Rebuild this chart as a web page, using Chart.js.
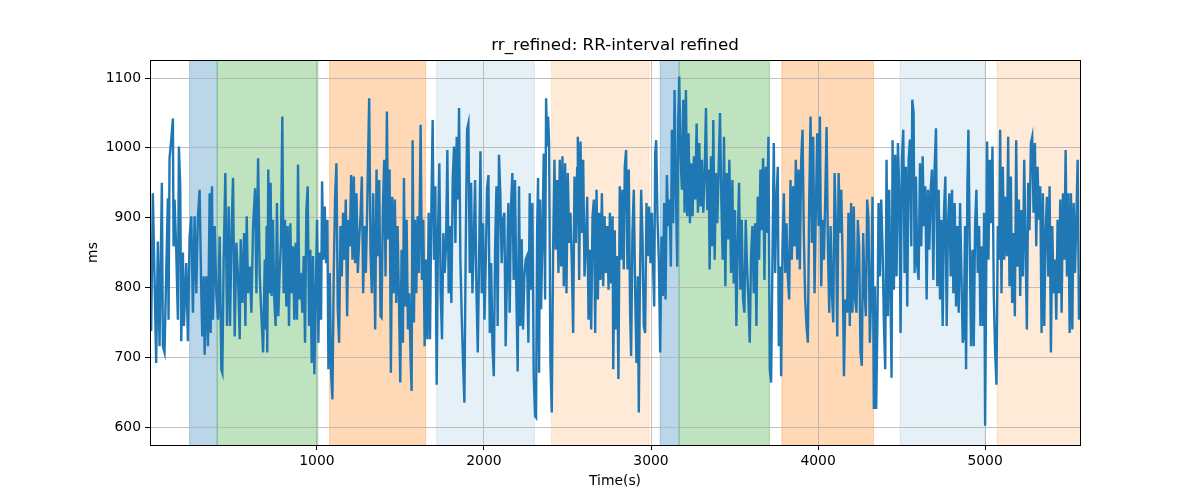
<!DOCTYPE html>
<html>
<head>
<meta charset="utf-8">
<script src="https://cdn.jsdelivr.net/npm/chart.js@4"></script>
<style>
  html, body { margin: 0; padding: 0; background: #fff; }
  #wrap { width: 1200px; height: 500px; }
</style>
</head>
<body>
<div id="wrap"><canvas id="c" width="1200" height="500"></canvas></div>
<script>
// ---- data ----
const timesS = [
3,8,18,28,38,48,58,72,78,88,98,108,112,118,128,138,142,148,158,168,174,182,188,198,204,218,228,238,248,258,268,278,288,298,308,314,322,328,338,348,358,364,372,378,388,398,408,418,428,434,442,452,462,472,480,490,498,508,518,528,538,544,554,564,572,580,588,598,608,618,630,638,648,658,668,678,688,
693,699,703,709,717,723,729,737,745,753,761,769,777,785,793,801,809,817,825,833,841,849,857,865,873,881,887,895,903,913,921,929,937,945,953,961,969,977,985,993,1001,1009,1017,1025,1031,1039,1047,1055,1063,1069,1077,1085,1093,1101,1109,1117,1125,1133,1141,1149,1157,1165,1173,1181,1189,1197,1205,1213,1221,1229,1237,1245,1253,1261,1269,1277,1285,1293,1301,1313,1321,1329,1337,1349,1357,1365,1373,1381,
1387,1395,1403,1411,1419,1427,1435,1443,1451,1459,1467,1475,1483,1491,1499,1507,1515,1521,1529,1537,1545,1553,1561,1567,1573,1581,1587,1595,1603,1611,1621,1629,1637,1645,1653,1661,1669,1677,1685,1693,1701,1709,1717,1725,1733,1741,1749,1757,1765,1773,1781,1789,1797,1805,1813,1821,1829,1837,1845,1851,1859,1867,1875,1883,1891,1899,1907,1915,1923,1931,1939,1947,1955,1963,1971,1979,1987,1995,2003,2011,2019,2027,2035,2043,2051,2059,2067,2075,
2082,2090,2098,2106,2114,2122,2130,2138,2146,2154,2162,2170,2178,2186,2194,2202,2210,2218,2226,2234,2242,2250,2258,2266,2274,2282,2290,2298,2306,2312,2318,2324,2330,2336,2342,2350,2358,2366,2372,2378,2384,2390,2398,2406,2414,2422,2430,2438,2446,2454,2462,2470,2478,2486,2494,2502,2510,2518,2526,2534,2542,2550,2558,2562,2570,2578,2586,2594,2602,2610,2618,2626,2634,2642,2650,2658,2666,2674,2682,2690,2698,2706,2714,2722,2730,2738,2746,2754,2762,2770,2774,
2783,2789,2797,2805,2813,2821,2829,2837,2843,2851,2859,2867,2875,2881,2889,2897,2905,2913,2921,2927,2933,2941,2949,2957,2965,2973,2981,2989,2997,3005,3013,3019,3025,3031,3039,3047,3055,3063,3071,3079,3087,3095,3103,3111,3119,3125,3133,3141,3149,3157,3163,3169,3177,3185,3193,3201,3209,3217,3225,3233,3241,3249,3257,3265,3273,3281,3289,3297,3305,3313,3321,3329,3337,3345,3351,3359,3367,3373,3381,3389,3397,3405,3413,3421,3429,3437,3445,3453,3461,3469,
3479,3487,3495,3503,3511,3519,3527,3535,3543,3551,3559,3567,3575,3583,3591,3599,3607,3615,3623,3631,3639,3647,3655,3663,3671,3679,3687,3695,3703,3711,3719,3727,3735,3743,3751,3759,3765,3773,3779,3787,3795,3803,3811,3819,3827,3835,3843,3851,3859,3867,3875,3883,3891,3899,3907,3915,3923,3931,3939,3947,3955,3963,3971,3979,3987,3995,4003,4011,4019,4027,4035,4043,4051,4059,4067,4075,4083,4091,4099,4107,4115,4123,4131,4139,4147,4155,4163,
4174,4182,4190,4198,4206,4214,4222,4230,4238,4246,4254,4262,4270,4278,4286,4294,4302,4310,4318,4326,4334,4340,4348,4356,4362,4370,4378,4386,4394,4402,4410,4418,4426,4434,4440,4446,4454,4462,4470,4478,4486,4494,4502,4510,4518,4526,4534,4542,4550,4558,4564,4572,4578,4586,4594,4602,4610,4618,4626,4634,4642,4650,4658,4666,4674,4682,4690,4698,4706,4714,4722,4730,4738,4746,4754,4762,4770,4778,4786,4794,4802,4810,4818,4826,4834,4842,4850,4858,
4866,4872,4880,4886,4894,4900,4908,4916,4924,4932,4940,4948,4956,4964,4972,4980,4988,4994,5000,5006,5012,5020,5028,5036,5044,5052,5060,5068,5076,5084,5090,5098,5106,5114,5122,5130,5138,5146,5154,5162,5170,5178,5186,5194,5202,5210,5218,5226,5234,5242,5250,5258,5266,5274,5282,5290,5298,5306,5314,5322,5330,5338,5346,5354,5362,5370,5378,5386,5394,5402,5410,5418,5426,5434,5442,5450,5458,5466,5474,5482,5490,5498,5506,5514,5522,5530,5538,5546,5554,5562,5568
];
const rrMs = [
760,738,935,816,692,866,716,950,716,707,821,928,754,985,1011,1042,859,926,854,754,1002,945,723,850,745,835,723,873,902,764,902,792,902,940,792,730,816,704,816,716,935,735,945,754,888,792,754,873,683,678,840,964,745,916,745,888,957,730,864,816,726,869,778,878,745,902,792,830,764,888,942,792,985,816,759,707,840,
740,888,707,969,792,950,788,897,783,745,921,759,821,864,1045,792,897,773,888,745,892,792,859,754,864,754,976,783,821,764,845,721,911,945,745,854,692,845,676,792,897,721,850,754,952,840,916,835,897,683,821,678,640,821,930,978,769,721,888,816,907,840,926,759,897,859,961,840,959,835,935,821,869,902,959,792,888,821,911,1071,850,792,935,740,969,845,954,759,
757,911,983,816,1052,869,969,678,930,792,926,778,888,788,664,854,721,957,773,897,740,792,697,652,1011,750,897,792,902,821,1033,811,897,716,840,726,907,726,911,1040,840,945,661,878,978,792,726,878,821,859,997,792,888,778,954,1002,864,1016,926,1057,840,759,692,635,859,1026,1035,821,950,792,864,954,797,707,840,995,792,892,754,840,942,961,735,835,716,673,859,945,
745,990,935,835,897,907,716,821,921,764,916,964,811,954,792,680,945,745,869,740,816,840,845,721,935,797,921,673,616,614,878,957,678,926,769,873,992,783,1071,1002,1045,1007,692,621,850,983,854,954,821,983,830,988,802,978,792,964,864,907,835,735,959,864,971,1016,811,1009,878,983,816,859,930,754,854,740,902,926,735,940,783,907,811,935,802,902,821,888,797,907,806,902,683,
882,740,845,669,945,840,940,826,973,997,826,969,764,702,878,940,797,692,816,621,792,940,873,745,735,921,845,916,835,907,826,773,992,1011,897,840,707,873,788,921,783,961,888,926,830,1026,892,1083,940,830,1040,1102,988,940,1069,907,1083,902,1021,892,978,902,988,926,1035,907,1007,916,983,907,959,1057,911,969,826,988,859,1040,840,964,892,969,1050,926,840,1016,802,964,869,983,
821,954,806,911,745,859,950,797,897,783,764,897,830,783,721,845,888,792,892,745,930,840,969,882,985,811,973,878,1016,683,664,840,1007,821,926,973,716,830,673,854,935,821,892,816,783,954,840,945,859,983,840,969,826,983,1026,873,783,745,721,921,1045,864,1016,792,916,1021,888,1045,802,897,840,926,1030,859,764,888,792,750,964,888,730,964,878,940,840,673,783,
764,907,745,921,764,916,783,764,897,859,707,688,878,797,759,926,897,721,792,930,626,802,626,764,921,816,926,859,750,683,983,759,940,783,671,1011,797,990,816,1007,940,735,983,1026,821,973,773,983,1012,859,1069,1050,821,959,830,811,978,859,988,888,945,783,940,854,940,969,811,973,1028,802,940,783,897,745,911,959,745,892,935,816,940,792,921,773,888,764,921,821,
721,730,888,683,945,1026,859,716,854,716,888,940,821,888,745,859,745,907,602,797,1009,840,983,892,1002,788,707,661,888,840,1026,792,973,840,930,845,1016,802,959,778,878,759,1011,830,926,788,911,816,983,859,740,950,882,1007,1016,907,1007,859,973,897,945,735,935,745,878,930,816,945,707,888,792,840,754,897,792,926,764,935,840,997,816,935,735,935,740,921,821,897,983,754,816
];
// shaded phases
const spanStart = [238, 403, 1076, 1717, 2405, 3055, 3168, 3783, 4492, 5072];
const spanEnd   = [403, 1006, 1651, 2302, 2988, 3168, 3709, 4332, 5000, 5570];
const spanColor = [
  'rgba(31,119,180,0.3)', 'rgba(44,160,44,0.3)', 'rgba(255,127,14,0.3)',
  'rgba(31,119,180,0.11)', 'rgba(255,127,14,0.16)',
  'rgba(31,119,180,0.3)', 'rgba(44,160,44,0.3)', 'rgba(255,127,14,0.3)',
  'rgba(31,119,180,0.11)', 'rgba(255,127,14,0.16)'
];
const xTicks = [1000, 2000, 3000, 4000, 5000];
const yTicks = [600, 700, 800, 900, 1000, 1100];
const titleText = 'rr_refined: RR-interval refined';
const xLabel = 'Time(s)';
const yLabel = 'ms';

const points = timesS.map((t, i) => ({ x: t, y: rrMs[i] }));
const FONT = 'DejaVu Sans, sans-serif';

const decor = {
  id: 'decor',
  beforeDraw(chart) {
    const { ctx, chartArea: a, scales } = chart;
    ctx.save();
    ctx.fillStyle = '#fff';
    ctx.fillRect(0, 0, chart.width, chart.height);
    ctx.beginPath();
    ctx.rect(a.left, a.top, a.right - a.left, a.bottom - a.top);
    ctx.clip();
    for (let i = 0; i < spanStart.length; i++) {
      const x0 = scales.x.getPixelForValue(spanStart[i]);
      const x1 = scales.x.getPixelForValue(spanEnd[i]);
      ctx.fillStyle = spanColor[i];
      ctx.fillRect(x0, a.top, x1 - x0, a.bottom - a.top);
      ctx.strokeStyle = spanColor[i];
      ctx.lineWidth = 1;
      ctx.strokeRect(x0, a.top - 2, x1 - x0, a.bottom - a.top + 4);
    }
    ctx.restore();
  },
  afterDraw(chart) {
    const { ctx, chartArea: a } = chart;
    ctx.save();
    ctx.strokeStyle = '#000';
    ctx.lineWidth = 1;
    ctx.strokeRect(Math.round(a.left) + 0.5, Math.round(a.top) + 0.5,
                   Math.round(a.right - a.left), Math.round(a.bottom - a.top));
    ctx.fillStyle = '#000';
    ctx.textAlign = 'center';
    ctx.textBaseline = 'middle';
    ctx.font = '16.7px ' + FONT;
    ctx.fillText(titleText, (a.left + a.right) / 2, 46);
    ctx.font = '13.9px ' + FONT;
    ctx.fillText(xLabel, (a.left + a.right) / 2, 481);
    ctx.translate(93, (a.top + a.bottom) / 2);
    ctx.rotate(-Math.PI / 2);
    ctx.fillText(yLabel, 0, 0);
    ctx.restore();
  }
};

new Chart(document.getElementById('c'), {
  type: 'line',
  data: {
    datasets: [{
      data: points,
      borderColor: '#1f77b4',
      borderWidth: 2.4,
      pointRadius: 0,
      tension: 0,
      fill: false
    }]
  },
  options: {
    responsive: false,
    animation: false,
    parsing: true,
    layout: { padding: { left: 0, right: 120, top: 60, bottom: 0 } },
    plugins: { legend: { display: false }, tooltip: { enabled: false }, title: { display: false } },
    scales: {
      x: {
        type: 'linear',
        min: 1, max: 5568,
        afterBuildTicks: s => { s.ticks = xTicks.map(v => ({ value: v })); },
        afterFit: s => { s.height = 55; },
        grid: { color: '#b0b0b0', lineWidth: 0.8, tickColor: '#000', tickLength: 5, tickWidth: 1 },
        border: { display: false },
        ticks: { color: '#000', font: { family: FONT, size: 13.9 }, padding: 3, maxRotation: 0,
                 callback: v => String(v) }
      },
      y: {
        type: 'linear',
        min: 574.6, max: 1125.8,
        afterBuildTicks: s => { s.ticks = yTicks.map(v => ({ value: v })); },
        afterFit: s => { s.width = 150; },
        grid: { color: '#b0b0b0', lineWidth: 0.8, tickColor: '#000', tickLength: 5, tickWidth: 1 },
        border: { display: false },
        ticks: { color: '#000', font: { family: FONT, size: 13.9 }, padding: 4,
                 callback: v => String(v) }
      }
    }
  },
  plugins: [decor]
});
</script>
</body>
</html>
